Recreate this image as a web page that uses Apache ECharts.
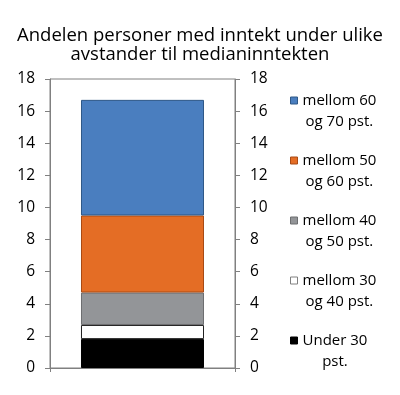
<!DOCTYPE html>
<html><head><meta charset="utf-8">
<script src="https://cdn.jsdelivr.net/npm/echarts@6/dist/echarts.min.js"></script>
<style>html,body{margin:0;padding:0;background:#fff}#c{width:400px;height:395px}</style>
</head><body><div id="c"></div>
<script>
const categories = [''];
const titleLines = ['Andelen personer med inntekt under ulike', 'avstander til medianinntekten'];
const seriesNames = ['Under 30 pst.', 'mellom 30 og 40 pst.', 'mellom 40 og 50 pst.', 'mellom 50 og 60 pst.', 'mellom 60 og 70 pst.'];
const legendLine1 = ['Under 30', 'mellom 30', 'mellom 40', 'mellom 50', 'mellom 60'];
const legendLine2 = ['pst.', 'og 40 pst.', 'og 50 pst.', 'og 60 pst.', 'og 70 pst.'];
const under30 = [1.8];
const m30to40 = [0.88];
const m40to50 = [2.02];
const m50to60 = [4.8];
const m60to70 = [7.2];
const yTicks = [0, 2, 4, 6, 8, 10, 12, 14, 16, 18];

const values = [under30, m30to40, m40to50, m50to60, m60to70];
const colors = ['#000000', '#ffffff', '#939598', '#e46d25', '#4a7ebf'];
const borders = ['#000000', '#222222', '#6d6e70', '#a84a14', '#2f5887'];
const FONT = 'Open Sans';

const chart = echarts.init(document.getElementById('c'));
const yAxisBase = {
  type: 'value', min: yTicks[0], max: yTicks[yTicks.length - 1], interval: 2,
  splitLine: { show: false },
  axisLine: { show: true, lineStyle: { color: '#808080', width: 1 } },
  axisTick: { show: true, length: 5, lineStyle: { color: '#808080' } },
  axisLabel: { color: '#000', fontSize: 15.5, fontFamily: FONT, margin: 15 }
};
const legends = seriesNames.map((n, i) => ({
  data: [n],
  left: 290,
  top: 344 - 60 * i - 11,
  orient: 'vertical',
  itemWidth: 7, itemHeight: 7, itemGap: 0,
  icon: 'rect',
  padding: 0,
  itemStyle: { borderColor: i === 1 ? '#808080' : borders[i], borderWidth: 1 },
  formatter: () => '{a|' + legendLine1[i] + '}\n{b|' + legendLine2[i] + '}',
  textStyle: {
    fontFamily: FONT, fontSize: 15, color: '#000', padding: [21, 0, 0, 0],
    rich: {
      a: { fontFamily: FONT, fontSize: 15, lineHeight: 21, color: '#000' },
      b: { fontFamily: FONT, fontSize: 15, lineHeight: 21, color: '#000', align: 'center' }
    }
  }
}));
chart.setOption({
  animation: false,
  title: titleLines.map((t, i) => ({
    text: t, left: 'center', top: 26 + 19 * i, padding: 0,
    textStyle: { fontFamily: FONT, fontSize: 18.5, fontWeight: 'normal', color: '#000' }
  })),
  legend: legends,
  grid: { left: 50, right: 165, top: 79, bottom: 27, show: true, borderColor: '#808080', borderWidth: 1 },
  xAxis: {
    type: 'category', data: categories,
    axisLine: { lineStyle: { color: '#808080' } },
    axisTick: { show: true, length: 4, lineStyle: { color: '#808080' } },
    axisLabel: { show: false }
  },
  yAxis: [
    Object.assign({}, yAxisBase, { position: 'left' }),
    Object.assign({}, yAxisBase, { position: 'right' })
  ],
  series: seriesNames.map((n, i) => ({
    name: n, type: 'bar', stack: 'a', data: values[i], barWidth: '66.5%',
    itemStyle: { color: colors[i], borderColor: borders[i], borderWidth: 1 }
  }))
});
</script></body></html>
